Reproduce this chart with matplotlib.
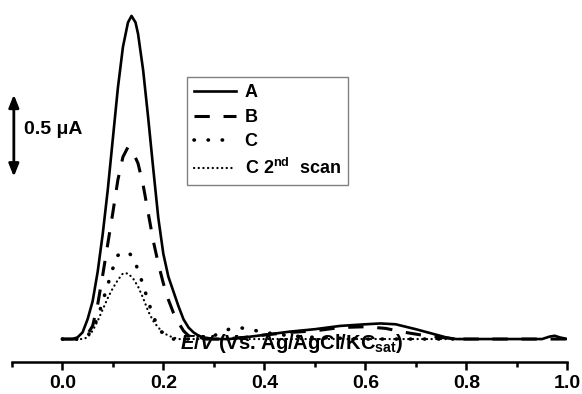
import matplotlib
matplotlib.use("Agg")
import matplotlib.pyplot as plt

plt.rcParams["font.family"] = ["Liberation Sans", "DejaVu Sans"]
plt.rcParams["font.weight"] = "bold"
plt.rcParams["mathtext.fontset"] = "custom"
plt.rcParams["mathtext.rm"] = "Liberation Sans:bold"
plt.rcParams["mathtext.bf"] = "Liberation Sans:bold"
plt.rcParams["mathtext.it"] = "Liberation Sans:italic:bold"
plt.rcParams["mathtext.default"] = "bf"

# potential (V) and current (uA, baseline-relative)
e_a = [0.00, 0.02, 0.03, 0.04, 0.05, 0.06, 0.07, 0.08, 0.09, 0.10, 0.11, 0.12,
       0.13, 0.137, 0.145, 0.15, 0.16, 0.17, 0.18, 0.19, 0.20, 0.21, 0.22, 0.23,
       0.24, 0.25, 0.26, 0.27, 0.28, 0.30, 0.33, 0.36, 0.40, 0.45, 0.50, 0.55,
       0.60, 0.63, 0.66, 0.70, 0.73, 0.76, 0.78, 0.85, 0.95, 0.965, 0.975, 0.985, 1.00]
i_a = [0, 0, 0.01, 0.04, 0.12, 0.23, 0.41, 0.64, 0.91, 1.22, 1.53, 1.78,
       1.93, 1.97, 1.93, 1.86, 1.64, 1.35, 1.04, 0.74, 0.52, 0.38, 0.29, 0.20,
       0.12, 0.07, 0.04, 0.02, 0.01, 0.0, 0.0, 0.01, 0.025, 0.045, 0.06, 0.08,
       0.09, 0.095, 0.09, 0.06, 0.035, 0.01, 0.0, 0.0, 0.0, 0.015, 0.02, 0.01, 0.0]

e_b = [0.00, 0.03, 0.04, 0.05, 0.06, 0.07, 0.08, 0.09, 0.10, 0.11, 0.12, 0.13,
       0.14, 0.15, 0.16, 0.17, 0.18, 0.19, 0.20, 0.21, 0.22, 0.23, 0.24, 0.25,
       0.26, 0.28, 0.32, 0.36, 0.40, 0.45, 0.50, 0.55, 0.60, 0.64, 0.68, 0.72,
       0.75, 0.78, 0.85, 1.00]
i_b = [0, 0, 0.01, 0.03, 0.08, 0.21, 0.39, 0.58, 0.77, 0.97, 1.11, 1.17,
       1.14, 1.07, 0.94, 0.77, 0.60, 0.46, 0.34, 0.24, 0.16, 0.10, 0.05, 0.02,
       0.01, 0.0, 0.0, 0.01, 0.025, 0.04, 0.05, 0.07, 0.075, 0.065, 0.04, 0.02,
       0.01, 0.0, 0.0, 0.0]

e_c = [0.00, 0.04, 0.05, 0.06, 0.07, 0.08, 0.09, 0.10, 0.11, 0.12, 0.13, 0.14,
       0.15, 0.16, 0.17, 0.18, 0.19, 0.20, 0.21, 0.22, 0.26, 0.30, 0.33, 0.35,
       0.37, 0.40, 0.45, 0.50, 0.60, 0.70, 0.80]
i_c = [0, 0, 0.02, 0.06, 0.13, 0.23, 0.33, 0.43, 0.51, 0.53, 0.53, 0.50,
       0.42, 0.33, 0.23, 0.14, 0.07, 0.03, 0.01, 0.0, 0.0, 0.02, 0.06, 0.07,
       0.06, 0.04, 0.02, 0.01, 0.0, 0.0, 0.0]

e_c2 = [0.00, 0.04, 0.05, 0.06, 0.07, 0.08, 0.09, 0.10, 0.11, 0.12, 0.13, 0.14,
        0.15, 0.16, 0.17, 0.18, 0.19, 0.20, 0.21, 0.22, 0.23, 0.30, 0.40, 0.50,
        0.60, 0.70, 0.80]
i_c2 = [0, 0, 0.01, 0.05, 0.11, 0.18, 0.25, 0.31, 0.36, 0.40, 0.40, 0.37,
        0.32, 0.25, 0.17, 0.11, 0.07, 0.04, 0.02, 0.01, 0.0, 0.0, 0.0, 0.0,
        0.0, 0.0, 0.0]

labels = ["A", "B", "C", "C 2$^{nd}$  scan"]

fig = plt.figure(figsize=(5.82, 3.94), dpi=100)
ax = fig.add_axes([0.0203, 0.0812, 0.9545, 0.9188])

ax.plot(e_a, i_a, color="black", lw=1.9, label=labels[0])
ax.plot(e_b, i_b, color="black", lw=2.2, dashes=(5, 4.5), label=labels[1])
ax.plot(e_c, i_c, color="black", lw=2.6, dashes=(0.1, 3.8),
        dash_capstyle="round", label=labels[2])
ax.plot(e_c2, i_c2, color="black", lw=1.6, dashes=(0.1, 2.0),
        dash_capstyle="round", label=labels[3])

ax.set_xlim(-0.1, 1.0)
ax.set_ylim(-0.14, 2.067)
for s in ["left", "right", "top"]:
    ax.spines[s].set_visible(False)
ax.spines["bottom"].set_linewidth(1.8)
ax.set_yticks([])
ax.set_xticks([0.0, 0.2, 0.4, 0.6, 0.8, 1.0])
ax.set_xticks([-0.1, 0.1, 0.3, 0.5, 0.7, 0.9], minor=True)
ax.tick_params(axis="x", which="major", direction="out", length=6, width=1.8,
               labelsize=14, pad=3.5)
ax.tick_params(axis="x", which="minor", direction="out", length=3.5, width=1.8)
for t in ax.get_xticklabels():
    t.set_fontweight("bold")

ax.text(0.455, -0.058, r"$\mathit{E/V}$ (Vs. Ag/AgCl/KC$_{sat}$)",
        ha="center", va="baseline", fontsize=14.5, fontweight="bold")

# 0.5 uA scale bar
ax.annotate("", xy=(-0.096, 0.99), xytext=(-0.096, 1.49),
            arrowprops=dict(arrowstyle="<|-|>,head_length=0.75,head_width=0.3",
                            color="black", lw=2, shrinkA=0, shrinkB=0))
ax.text(-0.076, 1.277, "0.5 μA", ha="left", va="center", fontsize=14,
        fontweight="bold")

ax.legend(loc="upper left", bbox_to_anchor=(0.315, 0.787), borderaxespad=0,
          handlelength=2.3, handletextpad=0.5, borderpad=0.4,
          labelspacing=0.42, fancybox=False, edgecolor="gray", framealpha=1,
          prop={"weight": "bold", "size": 13})

fig.savefig("out.png", dpi=100)
